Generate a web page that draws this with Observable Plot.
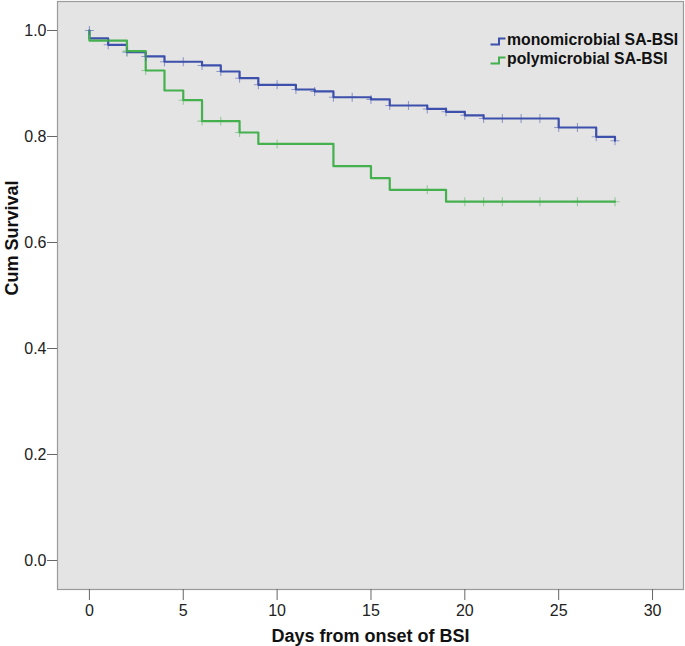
<!DOCTYPE html>
<html>
<head>
<meta charset="utf-8">
<script src="https://cdn.jsdelivr.net/npm/d3@7"></script>
<script src="https://cdn.jsdelivr.net/npm/@observablehq/plot@0.6"></script>
<style>
  html, body { margin: 0; padding: 0; background: #fff; }
  #wrap { position: relative; width: 685px; height: 646px; font-family: "Liberation Sans", Arial, sans-serif; }
  .leg { position: absolute; left: 490px; font-weight: bold; font-size: 15.8px; color: #111; white-space: nowrap; display: flex; align-items: center; }
  .leg svg { margin-right: 1px; }
</style>
</head>
<body>
<div id="wrap"></div>
<script>
// Kaplan-Meier steps (time, survival after the step)
const monoTimes = [0, 0, 1, 2, 3, 4, 6, 7, 8, 9, 11, 12, 13, 15, 16, 18, 19, 20, 21, 25, 27, 28];
const monoSurv  = [1.0, 0.985, 0.973, 0.959, 0.951, 0.941, 0.934, 0.9226, 0.910, 0.8975, 0.8887, 0.885, 0.874, 0.870, 0.8585, 0.852, 0.8466, 0.840, 0.834, 0.817, 0.7994, 0.792];
const polyTimes = [0, 0, 2, 3, 4, 5, 6, 8, 9, 13, 15, 16, 19, 28];
const polySurv  = [1.0, 0.981, 0.961, 0.9245, 0.8868, 0.8685, 0.829, 0.8075, 0.786, 0.744, 0.7214, 0.6994, 0.677, 0.677];
// censored observations (days)
const monoCensor = [0,1,2,3,4,5,6,7,8,9,10,11,12,13,14,15,16,17,18,19,20,21,22,23,24,25,26,27,28];
const polyCensor = [2,3,5,6,7,8,10,18,20,21,22,24,26,28];

const groups = ["monomicrobial SA-BSI", "polymicrobial SA-BSI"];
const colors = ["#3d50ab", "#44b04e"];
const xTicks = [0, 5, 10, 15, 20, 25, 30];
const yTicks = [0, 0.2, 0.4, 0.6, 0.8, 1.0];

const steps = [];
monoTimes.forEach((t, i) => steps.push({group: groups[0], t, s: monoSurv[i]}));
polyTimes.forEach((t, i) => steps.push({group: groups[1], t, s: polySurv[i]}));

function survAt(times, surv, d) {
  if (d === 0) return surv[0];
  let v = surv[0];
  times.forEach((t, i) => { if (t <= d) v = surv[i]; });
  return v;
}
const censors = [];
monoCensor.forEach(d => censors.push({group: groups[0], t: d, s: survAt(monoTimes, monoSurv, d)}));
polyCensor.forEach(d => censors.push({group: groups[1], t: d, s: survAt(polyTimes, polySurv, d)}));

const chart = Plot.plot({
  width: 685,
  height: 646,
  marginTop: 1,
  marginRight: 2,
  marginBottom: 57,
  marginLeft: 57,
  style: {fontFamily: "'Liberation Sans', Arial, sans-serif", fontSize: "16px", color: "#222", background: "#fff"},
  x: {domain: [-1.7, 31.65]},
  y: {domain: [-0.0547, 1.0547]},
  color: {domain: groups, range: colors},
  marks: [
    Plot.frame({fill: "#e4e4e4", stroke: "#9a9a9a", strokeWidth: 1.2}),
    Plot.axisX({ticks: xTicks, tickSize: 11, tickPadding: 4, label: null, stroke: "#666", fontSize: 16}),
    Plot.axisY({ticks: yTicks, tickFormat: d3.format(".1f"), tickSize: 10, tickPadding: 1, label: null, stroke: "#666", fontSize: 16}),
    Plot.line(steps, {x: "t", y: "s", z: "group", stroke: "group", curve: "step-after", strokeWidth: 2.2}),
    Plot.dot(censors, {x: "t", y: "s", stroke: "group", symbol: "plus", r: 3, strokeWidth: 1.1, strokeOpacity: 0.5}),
    Plot.text(["Days from onset of BSI"], {frameAnchor: "bottom", lineAnchor: "bottom", dy: 52, fontWeight: "bold", fontSize: 18, fill: "#111"}),
    Plot.text(["Cum Survival"], {frameAnchor: "left", rotate: -90, dx: -45, fontWeight: "bold", fontSize: 18, fill: "#111"})
  ]
});

const wrap = document.getElementById("wrap");
wrap.appendChild(chart);

const legTops = [31, 50];
groups.forEach((g, i) => {
  const div = document.createElement("div");
  div.className = "leg";
  div.style.top = legTops[i] + "px";
  div.innerHTML = `<svg width="16" height="16" viewBox="0 0 16 16"><path d="M0.5,12.5 H9 V6.5 H15.5" fill="none" stroke="${colors[i]}" stroke-width="2"/></svg><span>${g}</span>`;
  wrap.appendChild(div);
});
</script>
</body>
</html>
